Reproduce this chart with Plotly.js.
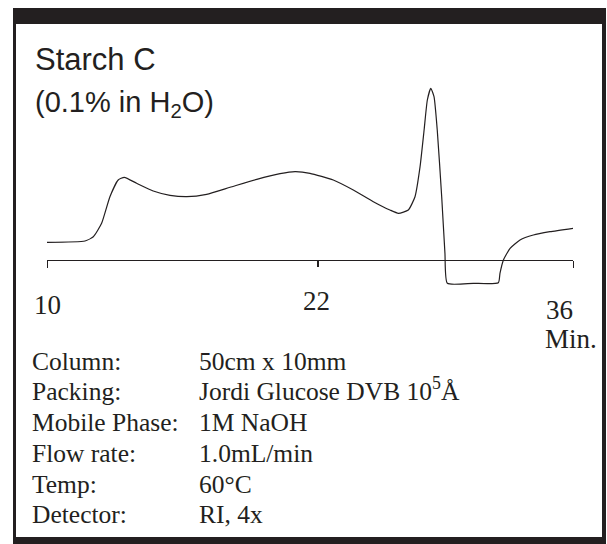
<!DOCTYPE html>
<html><head><meta charset="utf-8">
<script src="https://cdn.plot.ly/plotly-3.0.1.min.js"></script>
<style>html,body{margin:0;padding:0;background:#fff}#chart{width:607px;height:544px}</style>
</head><body><div id="chart"></div>
<script>
// ---- data ----
const timeMin = [10.0, 11.88, 12.29, 12.70, 13.11, 13.52, 13.82, 14.43, 15.25, 16.08, 16.91, 17.89, 19.05, 20.37, 21.52, 22.26, 23.00, 24.15, 25.14, 26.13, 26.95, 27.37, 27.86, 28.19, 28.44, 28.64, 28.80, 28.97, 29.13, 29.29, 29.51, 29.67, 29.79, 31.07, 32.31, 32.39, 32.56, 32.89, 33.38, 34.04, 34.86, 36.0];
const response = [1.77, 1.90, 2.33, 3.67, 6.33, 8.00, 8.27, 7.67, 6.90, 6.47, 6.33, 6.57, 7.27, 8.07, 8.63, 8.83, 8.67, 8.00, 7.00, 5.83, 5.00, 4.67, 5.00, 6.33, 9.33, 13.0, 16.0, 17.17, 16.33, 13.0, 6.33, 0.67, -2.33, -2.33, -2.27, -1.33, 0.0, 1.17, 2.0, 2.5, 2.83, 3.17];
const tickPositions = [10, 23.4, 36];
const tickLabels = ['10', '22', '36'];
const unitLabel = 'Min.';
const titleText = 'Starch C';
const subtitleText = '(0.1% in H<sub>2</sub>O)';
const condLabels = ['Column:', 'Packing:', 'Mobile Phase:', 'Flow rate:', 'Temp:', 'Detector:'];
const condValues = ['50cm x 10mm', 'Jordi Glucose DVB 10<sup>5</sup>Å', '1M NaOH', '1.0mL/min', '60°C', 'RI, 4x'];

// ---- layout helpers (pixel -> paper) ----
const W = 607, H = 544, ML = 47, MR = 34, MT = 80, MB = 254;
const PW = W - ML - MR, PH = H - MT - MB;
const fx = px => (px - ML) / PW;
const fy = py => 1 - (py - MT) / PH;
const INK = '#231f20';
const SERIF = '"Liberation Serif", "Times New Roman", serif';
const SANS = '"Liberation Sans Narrow", "Arial Narrow", "Liberation Sans", Arial, sans-serif';
// place text so its baseline sits at pixel row py
const base = (py, size) => fy(py + 0.215 * size + 1);

const annotations = [];
annotations.push({text: titleText, xref: 'paper', yref: 'paper', x: fx(33), y: base(71, 31), xanchor: 'left', yanchor: 'bottom', showarrow: false, font: {family: SANS, size: 31, color: INK}});
annotations.push({text: subtitleText, xref: 'paper', yref: 'paper', x: fx(33), y: base(117, 29), xanchor: 'left', yanchor: 'bottom', showarrow: false, font: {family: SANS, size: 29, color: INK}});
const tickShift = [[0, 315], [-2, 311], [-14, 320]];
tickLabels.forEach((t, i) => {
  annotations.push({text: t, xref: 'x', yref: 'paper', x: tickPositions[i], xshift: tickShift[i][0], y: base(tickShift[i][1], 27), xanchor: 'center', yanchor: 'bottom', showarrow: false, font: {family: SERIF, size: 27, color: INK}});
});
annotations.push({text: unitLabel, xref: 'paper', yref: 'paper', x: fx(599), y: base(349, 27), xanchor: 'right', yanchor: 'bottom', showarrow: false, font: {family: SERIF, size: 27, color: INK}});
const rowBase = [372, 402, 433, 464, 495, 525];
condLabels.forEach((t, i) => {
  annotations.push({text: t, xref: 'paper', yref: 'paper', x: fx(30), y: base(rowBase[i], 25.5), xanchor: 'left', yanchor: 'bottom', showarrow: false, font: {family: SERIF, size: 25.5, color: INK}});
  annotations.push({text: condValues[i], xref: 'paper', yref: 'paper', x: fx(197), y: base(rowBase[i], 25.5), xanchor: 'left', yanchor: 'bottom', showarrow: false, font: {family: SERIF, size: 25.5, color: INK}});
});

const rect = (x0, y0, x1, y1) => ({type: 'rect', xref: 'paper', yref: 'paper', x0: fx(x0), x1: fx(x1), y0: fy(y0), y1: fy(y1), fillcolor: INK, line: {width: 0}, layer: 'above'});
const shapes = [
  rect(13, 8, 606, 24),
  rect(13, 537, 606, 544),
  rect(13, 8, 16, 544),
  rect(602, 8, 606, 544)
];

const trace = {x: timeMin, y: response, type: 'scatter', mode: 'lines', line: {color: INK, width: 1.2, shape: 'spline', smoothing: 0.5}, hoverinfo: 'skip', showlegend: false};

const yRange = [-3, 18];
const layout = {
  width: W, height: H,
  margin: {l: ML, r: MR, t: MT, b: MB, pad: 0},
  paper_bgcolor: '#ffffff', plot_bgcolor: 'rgba(0,0,0,0)',
  showlegend: false,
  xaxis: {
    range: [10, 36], anchor: 'free', position: (0 - yRange[0]) / (yRange[1] - yRange[0]),
    showline: true, linecolor: INK, linewidth: 1,
    ticks: 'outside', tickvals: [tickPositions[0], tickPositions[2]], ticklen: 7, tickwidth: 1, tickcolor: INK,
    minor: {tickmode: 'array', tickvals: [tickPositions[1]], ticks: 'outside', ticklen: 6, tickwidth: 2.2, tickcolor: INK, showgrid: false},
    showticklabels: false, showgrid: false, zeroline: false, fixedrange: true
  },
  yaxis: {range: yRange, visible: false, showgrid: false, zeroline: false, fixedrange: true},
  annotations: annotations,
  shapes: shapes
};
Plotly.newPlot('chart', [trace], layout, {staticPlot: true, displayModeBar: false});
</script></body></html>
